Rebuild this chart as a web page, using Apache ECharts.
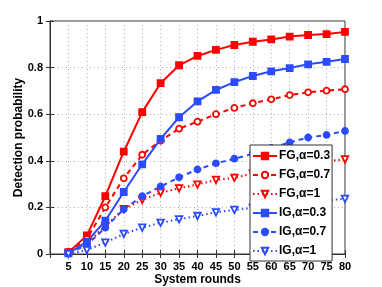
<!DOCTYPE html>
<html><head><meta charset="utf-8">
<script src="https://cdn.jsdelivr.net/npm/echarts@6/dist/echarts.min.js"></script>
<style>html,body{margin:0;padding:0;background:#fff}#c{width:382px;height:287px}</style>
</head><body><div id="c"></div>
<script>
const rounds = [5,10,15,20,25,30,35,40,45,50,55,60,65,70,75,80];
const fg03 = [0.007,0.08,0.248,0.439,0.609,0.733,0.81,0.85,0.876,0.897,0.911,0.921,0.933,0.94,0.944,0.953];
const fg07 = [0.01,0.065,0.2,0.325,0.426,0.486,0.538,0.568,0.6,0.627,0.647,0.664,0.682,0.694,0.701,0.707];
const fg1  = [0.005,0.046,0.12,0.193,0.232,0.263,0.282,0.298,0.318,0.327,0.345,0.36,0.375,0.388,0.398,0.406];
const ig03 = [0.003,0.053,0.143,0.266,0.385,0.494,0.587,0.655,0.704,0.738,0.764,0.784,0.798,0.814,0.825,0.837];
const ig07 = [0.003,0.039,0.113,0.192,0.248,0.29,0.329,0.363,0.389,0.409,0.43,0.455,0.479,0.5,0.511,0.528];
const ig1  = [0.0,0.017,0.049,0.086,0.113,0.134,0.149,0.163,0.179,0.189,0.198,0.206,0.215,0.223,0.23,0.237];
const names = ['FG,\u03b1=0.3','FG,\u03b1=0.7','FG,\u03b1=1','IG,\u03b1=0.3','IG,\u03b1=0.7','IG,\u03b1=1'];
const yTicks = [0,0.2,0.4,0.6,0.8,1];

const RED = '#ff0000', BLUE = '#2b4bff';
const pair = v => rounds.map((r,i)=>[r,v[i]]);
function mk(name, data, color, type, sym, size, rot, fill) {
  return {
    name, type:'line', data: pair(data), symbol: sym, symbolSize: size, symbolRotate: rot||0,
    showSymbol: true, animation:false,
    lineStyle:{color, width:2, type},
    itemStyle:{color: fill||color, borderColor: color, borderWidth: 1.8},
    emphasis:{disabled:true}
  };
}
const font = 'Liberation Sans';
const chart = echarts.init(document.getElementById('c'), null, {renderer:'canvas'});
chart.setOption({
  animation:false,
  backgroundColor:'#fff',
  textStyle:{fontFamily:font},
  grid:{left:50, top:21, right:37, bottom:33, outerBoundsMode:'none', containLabel:false,
        show:true, borderColor:'#333', borderWidth:1, backgroundColor:'transparent'},
  legend:{
    orient:'vertical', left:250, top:145,
    backgroundColor:'#fff', borderColor:'#333', borderWidth:1,
    padding:[4,2,3,2], itemGap:5, itemWidth:24, itemHeight:8,
    textStyle:{fontFamily:font, fontWeight:'bold', fontSize:12, color:'#000', padding:[0,0,0,-3], lineHeight:14},
    data: names
  },
  xAxis:[{
    type:'value', min:0, max:80, interval:5,
    name:'System rounds', nameLocation:'middle', nameGap:20, nameMoveOverlap:false,
    nameTextStyle:{fontFamily:font, fontWeight:'bold', fontSize:12, color:'#000'},
    axisLine:{show:true, onZero:false, lineStyle:{color:'#333'}},
    axisTick:{show:true, inside:true, length:4, lineStyle:{color:'#333'}},
    axisLabel:{fontFamily:font, fontWeight:'bold', fontSize:11, color:'#000', margin:7,
      formatter: v => v===0 ? '' : String(v)},
    splitLine:{show:true, lineStyle:{color:'#b0b0b0', type:[1,3], width:1}}
  },{
    type:'value', min:0, max:80, interval:5, position:'top',
    axisLine:{show:true, lineStyle:{color:'#333'}},
    axisTick:{show:true, inside:true, length:4, lineStyle:{color:'#333'}},
    axisLabel:{show:false}, splitLine:{show:false}
  }],
  yAxis:[{
    type:'value', min:0, max:1, interval:0.2,
    name:'Detection probability', nameLocation:'middle', nameGap:25, nameMoveOverlap:false,
    nameTextStyle:{fontFamily:font, fontWeight:'bold', fontSize:12, color:'#000'},
    axisLine:{show:true, lineStyle:{color:'#333'}},
    axisTick:{show:true, inside:true, length:4, lineStyle:{color:'#333'}},
    axisLabel:{fontFamily:font, fontWeight:'bold', fontSize:11, color:'#000', margin:7,
      formatter: v => { const t = yTicks.find(x=>Math.abs(x-v)<1e-9); return t===undefined? '' : String(t); }},
    splitLine:{show:true, lineStyle:{color:'#b0b0b0', type:[1,3], width:1}}
  },{
    type:'value', min:0, max:1, interval:0.2, position:'right',
    axisLine:{show:true, lineStyle:{color:'#333'}},
    axisTick:{show:true, inside:true, length:4, lineStyle:{color:'#333'}},
    axisLabel:{show:false}, splitLine:{show:false}
  }],
  series:[
    mk(names[0], fg03, RED, 'solid', 'rect', 6),
    mk(names[1], fg07, RED, [5,4], 'circle', 6, 0, '#fff'),
    mk(names[2], fg1, RED, [1.5,3], 'triangle', 6.5, 180, '#fff'),
    mk(names[3], ig03, BLUE, 'solid', 'rect', 6),
    mk(names[4], ig07, BLUE, [5,4], 'circle', 6, 0, BLUE),
    mk(names[5], ig1, BLUE, [1.5,3], 'triangle', 6.5, 180, '#fff')
  ]
});
</script></body></html>
